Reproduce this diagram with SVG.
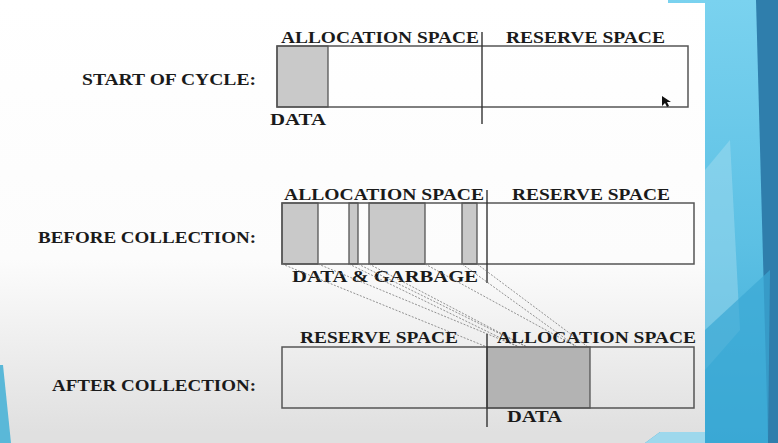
<svg xmlns="http://www.w3.org/2000/svg" width="778" height="443" viewBox="0 0 778 443">
<defs>
<linearGradient id="panel" x1="0" y1="0" x2="0" y2="1">
<stop offset="0" stop-color="#ffffff"/>
<stop offset="0.6" stop-color="#fcfcfc"/>
<stop offset="1" stop-color="#e0e0e0"/>
</linearGradient>
<linearGradient id="blueR" x1="0" y1="0" x2="0" y2="1">
<stop offset="0" stop-color="#7ad2ef"/>
<stop offset="0.55" stop-color="#5cc0e4"/>
<stop offset="1" stop-color="#3aa8d4"/>
</linearGradient>
<style>
.t{font-family:"Liberation Serif","Times New Roman",serif;font-size:17px;font-weight:bold;fill:#1a1a1a;}
.box{fill:none;stroke:#555;stroke-width:1.5;}
.shade{fill:#c9c9c9;stroke:#555;stroke-width:1.3;}
.shade2{fill:#b3b3b3;stroke:#555;stroke-width:1.3;}
.div{stroke:#333;stroke-width:1.4;}
.dash{stroke:#777;stroke-width:0.8;stroke-dasharray:2 1.5;fill:none;}
</style>
</defs>
<g id="background">
<rect x="0" y="0" width="778" height="443" fill="url(#blueR)"/>
<polygon points="756,0 778,0 778,443 768,443" fill="#2f7eac"/>
<polygon points="705,170 730,140 740,330 705,370" fill="#a8def0" opacity="0.45"/>
<polygon points="705,330 770,270 768,443 705,443" fill="#3aa8d4" opacity="0.7"/>
<polygon points="0,0 668,0 668,3 705,3 705,432 0,432" fill="url(#panel)"/>
<polygon points="0,432 660,432 645,443 0,443" fill="#e0e0e0"/>
<polygon points="660,432 705,432 705,443 645,443" fill="#9ed8ec"/>
<polygon points="0,365 3,365 11,443 0,443" fill="#5ab8d8"/>
</g>
<g id="row-start">
<text class="t" x="82" y="85" textLength="174" lengthAdjust="spacingAndGlyphs">START OF CYCLE:</text>
<rect class="shade" x="277" y="46" width="51" height="61"/>
<rect class="box" x="277" y="46" width="411" height="61"/>
<line class="div" x1="482" y1="32" x2="482" y2="124"/>
<text class="t" x="281" y="43" textLength="198" lengthAdjust="spacingAndGlyphs">ALLOCATION SPACE</text>
<text class="t" x="506" y="43" textLength="159" lengthAdjust="spacingAndGlyphs">RESERVE SPACE</text>
<text class="t" x="270" y="125" textLength="56" lengthAdjust="spacingAndGlyphs">DATA</text>
<polygon points="662,96 662,106 665,103 667,107 669,106 667,102 671,102" fill="#111"/>
</g>
<g id="row-before">
<text class="t" x="38" y="243" textLength="218" lengthAdjust="spacingAndGlyphs">BEFORE COLLECTION:</text>
<rect class="shade" x="282" y="203" width="36" height="61"/>
<rect class="shade" x="349" y="203" width="9" height="61"/>
<rect class="shade" x="369" y="203" width="56" height="61"/>
<rect class="shade" x="462" y="203" width="15" height="61"/>
<rect class="box" x="282" y="203" width="412" height="61"/>
<line class="div" x1="487" y1="190" x2="487" y2="283"/>
<text class="t" x="284" y="200" textLength="200" lengthAdjust="spacingAndGlyphs">ALLOCATION SPACE</text>
<text class="t" x="512" y="200" textLength="158" lengthAdjust="spacingAndGlyphs">RESERVE SPACE</text>
<text class="t" x="292" y="282" textLength="186" lengthAdjust="spacingAndGlyphs">DATA &amp; GARBAGE</text>
</g>
<g id="connectors">
<line class="dash" x1="282" y1="264" x2="487" y2="347"/>
<line class="dash" x1="318" y1="264" x2="519" y2="347"/>
<line class="dash" x1="349" y1="264" x2="519" y2="347"/>
<line class="dash" x1="358" y1="264" x2="527" y2="347"/>
<line class="dash" x1="369" y1="264" x2="527" y2="347"/>
<line class="dash" x1="425" y1="264" x2="577" y2="347"/>
<line class="dash" x1="462" y1="264" x2="577" y2="347"/>
<line class="dash" x1="477" y1="264" x2="588" y2="347"/>
</g>
<g id="row-after">
<text class="t" x="52" y="391" textLength="204" lengthAdjust="spacingAndGlyphs">AFTER COLLECTION:</text>
<rect class="shade2" x="487" y="347" width="103" height="61"/>
<rect class="box" x="282" y="347" width="412" height="61"/>
<line class="div" x1="487" y1="334" x2="487" y2="427"/>
<text class="t" x="300" y="343" textLength="158" lengthAdjust="spacingAndGlyphs">RESERVE SPACE</text>
<text class="t" x="497" y="343" textLength="199" lengthAdjust="spacingAndGlyphs">ALLOCATION SPACE</text>
<text class="t" x="507" y="422" textLength="55" lengthAdjust="spacingAndGlyphs">DATA</text>
</g>
</svg>
